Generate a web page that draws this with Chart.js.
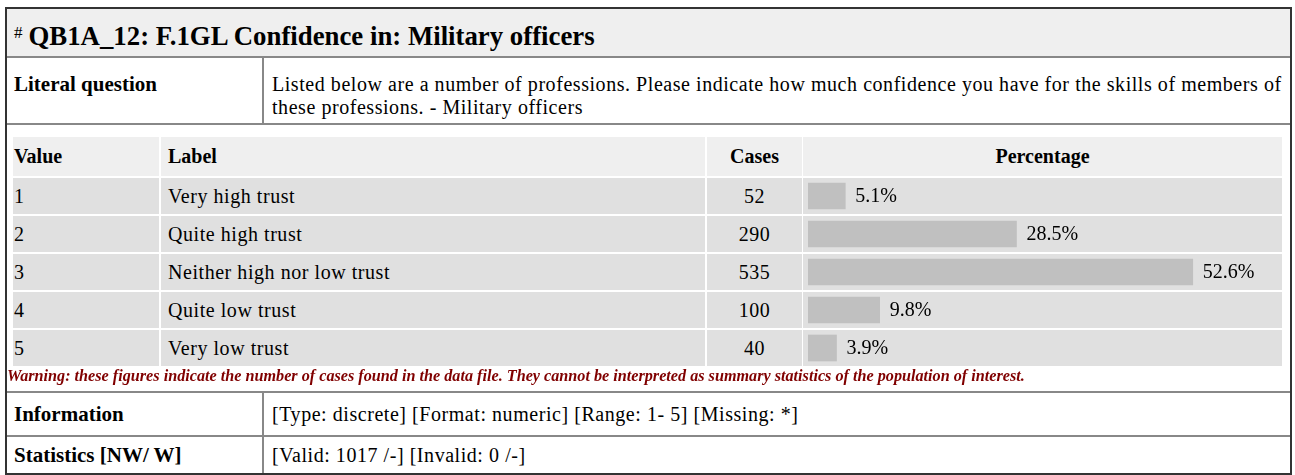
<!DOCTYPE html>
<html>
<head>
<meta charset="utf-8">
<script src="https://cdn.jsdelivr.net/npm/chart.js@4.4.0/dist/chart.umd.min.js"></script>
<style>
body { margin: 0; background: #fff; font-family: "Liberation Serif", "Times New Roman", serif; color: #000; }
#page { position: relative; width: 1295px; height: 475px; overflow: hidden; }
.abs { position: absolute; box-sizing: border-box; }
.line { position: absolute; background: #888; }
.txt { font-size: 20px; letter-spacing: 0.55px; white-space: nowrap; }
.cell { position: absolute; box-sizing: border-box; display: flex; align-items: center; font-size: 20px; letter-spacing: 0.55px; white-space: nowrap; }
.th { font-weight: bold; letter-spacing: 0; }
</style>
</head>
<body>
<div id="page">
  <div class="abs" style="left:5px;top:7px;width:1287px;height:468px;border:2px solid #333;"></div>
  <div class="abs" style="left:7px;top:9px;width:1283px;height:47px;background:#efefef;"></div>
  <div class="line" style="left:7px;top:56px;width:1283px;height:2px;"></div>
  <div class="line" style="left:262px;top:58px;width:2px;height:65px;"></div>
  <div class="line" style="left:7px;top:123px;width:1283px;height:2px;"></div>
  <div class="line" style="left:7px;top:391px;width:1283px;height:2px;"></div>
  <div class="line" style="left:262px;top:393px;width:2px;height:80px;"></div>
  <div class="line" style="left:7px;top:435px;width:1283px;height:2px;"></div>

  <div class="abs" id="title" style="left:14px;top:9px;height:47px;line-height:47px;white-space:nowrap;">
    <span style="font-size:17px;vertical-align:7px;margin-right:6px;">#</span><span style="font-size:26.8px;font-weight:bold;">QB1A_12: F.1GL Confidence in: Military officers</span>
  </div>

  <div class="abs" style="left:14px;top:73px;font-size:21px;line-height:23px;font-weight:bold;white-space:nowrap;">Literal question</div>
  <div class="abs txt" style="left:272px;top:73px;line-height:23px;">Listed below are a number of professions. Please indicate how much confidence you have for the skills of members of<br>these professions. - Military officers</div>

  <div id="table"></div>
  <canvas id="bars" class="abs" width="474" height="190" style="left:808px;top:177px;width:474px;height:190px;"></canvas>

  <div class="abs" style="left:7px;top:364px;height:24px;line-height:24px;font-size:16.2px;font-weight:bold;font-style:italic;color:#800000;white-space:nowrap;">Warning: these figures indicate the number of cases found in the data file. They cannot be interpreted as summary statistics of the population of interest.</div>

  <div class="abs" style="left:14px;top:393px;height:42px;line-height:42px;font-size:21px;font-weight:bold;">Information</div>
  <div class="abs txt" style="left:272px;top:393px;height:42px;line-height:42px;">[Type: discrete] [Format: numeric] [Range: 1- 5] [Missing: *]</div>
  <div class="abs" style="left:14px;top:437px;height:36px;line-height:36px;font-size:21px;font-weight:bold;white-space:nowrap;">Statistics [NW/ W]</div>
  <div class="abs txt" style="left:272px;top:437px;height:36px;line-height:36px;">[Valid: 1017 /-] [Invalid: 0 /-]</div>
</div>

<script>
const headers = ['Value', 'Label', 'Cases', 'Percentage'];
const values = ['1', '2', '3', '4', '5'];
const labels = ['Very high trust', 'Quite high trust', 'Neither high nor low trust', 'Quite low trust', 'Very low trust'];
const cases = [52, 290, 535, 100, 40];
const percents = [5.1, 28.5, 52.6, 9.8, 3.9];

// column geometry of the frequency table
const colX = [13, 161, 707, 803];
const colW = [146, 544, 95, 479];
const colPad = [1, 7, 0, 0];
const colAlign = ['flex-start', 'flex-start', 'center', 'center'];

const table = document.getElementById('table');

function addCell(text, col, top, height, bg, bold) {
    const d = document.createElement('div');
    d.className = 'cell' + (bold ? ' th' : '');
    d.style.left = colX[col] + 'px';
    d.style.width = colW[col] + 'px';
    d.style.top = top + 'px';
    d.style.height = height + 'px';
    d.style.background = bg;
    d.style.justifyContent = colAlign[col];
    d.style.paddingLeft = colPad[col] + 'px';
    d.textContent = text;
    table.appendChild(d);
}

headers.forEach((h, i) => addCell(h, i, 137, 39, '#efefef', true));

values.forEach((v, i) => {
    const top = 178 + i * 38;
    addCell(v, 0, top, 36, '#e0e0e0', false);
    addCell(labels[i], 1, top, 36, '#e0e0e0', false);
    addCell(String(cases[i]), 2, top, 36, '#e0e0e0', false);
    addCell('', 3, top, 36, '#e0e0e0', false);
});

const percentLabels = {
    id: 'percentLabels',
    afterDatasetsDraw(chart) {
        const ctx = chart.ctx;
        const meta = chart.getDatasetMeta(0);
        ctx.save();
        ctx.font = '20px "Liberation Serif"';
        ctx.fillStyle = '#000';
        ctx.textBaseline = 'middle';
        meta.data.forEach((bar, i) => {
            ctx.fillText(percents[i].toFixed(1) + '%', bar.x + 10, bar.y + 1);
        });
        ctx.restore();
    },
};

const ctx = document.getElementById('bars').getContext('2d');
new Chart(ctx, {
    type: 'bar',
    data: {
        labels: labels,
        datasets: [{
            data: percents,
            backgroundColor: '#c0c0c0',
            borderWidth: 0,
            barThickness: 26,
        }],
    },
    options: {
        indexAxis: 'y',
        responsive: false,
        animation: false,
        layout: { padding: 0 },
        scales: {
            x: { display: false, min: 0, max: 64.8 },
            y: { display: false },
        },
        plugins: {
            legend: { display: false },
            tooltip: { enabled: false },
        },
    },
    plugins: [percentLabels],
});
</script>
</body>
</html>
